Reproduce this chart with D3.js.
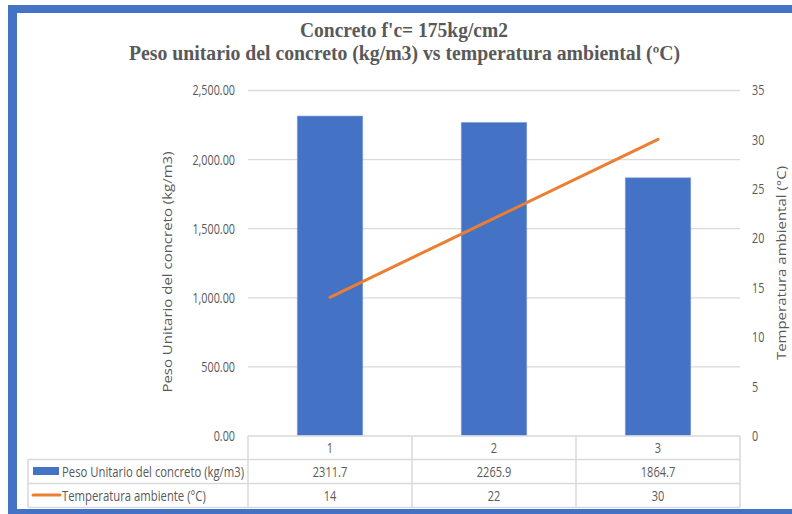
<!DOCTYPE html>
<html><head><meta charset="utf-8">
<script src="https://cdn.jsdelivr.net/npm/d3@7"></script>
<style>html,body{margin:0;padding:0;background:#fff;}svg{display:block;}</style>
</head><body>
<svg id="c" width="792" height="514"></svg>
<script>
const categories = ["1", "2", "3"];
const pesoUnitario = [2311.7, 2265.9, 1864.7];
const temperatura = [14, 22, 30];
const leftTicks = [0, 500, 1000, 1500, 2000, 2500];
const rightTicks = [0, 5, 10, 15, 20, 25, 30, 35];
const seriesNames = ["Peso Unitario del concreto (kg/m3)", "Temperatura ambiente (°C)"];
const titleLines = ["Concreto f'c= 175kg/cm2", "Peso unitario del concreto (kg/m3) vs temperatura ambiental (ºC)"];
const yLeftTitle = "Peso Unitario del concreto (kg/m3)";
const yRightTitle = "Temperatura ambiental (°C)";

const BLUE = "#4472C4", ORANGE = "#ED7D31", TXT = "#595959", GRID = "#D9D9D9";
const FONT = "'Open Sans', sans-serif";
const svg = d3.select("#c");

// frame
svg.append("rect").attr("x", 8).attr("y", 5).attr("width", 784).attr("height", 8).attr("fill", BLUE);
svg.append("rect").attr("x", 8).attr("y", 5).attr("width", 9).attr("height", 509).attr("fill", BLUE);
svg.append("rect").attr("x", 8).attr("y", 509).attr("width", 784).attr("height", 5).attr("fill", BLUE);

const plotL = 248, plotR = 740, plotT = 90, plotB = 435.5;
const x = d3.scaleBand().domain(categories).range([plotL, plotR]).paddingInner(0).paddingOuter(0);
const yL = d3.scaleLinear().domain([0, 2500]).range([plotB, plotT]);
const yR = d3.scaleLinear().domain([0, 35]).range([plotB, plotT]);

// gridlines
const grid = svg.append("g").attr("transform", `translate(${plotL},0)`)
  .call(d3.axisLeft(yL).tickValues(leftTicks.slice(1)).tickSize(-(plotR - plotL)).tickFormat(""));
grid.select(".domain").remove();
grid.selectAll("line").attr("stroke", GRID).attr("stroke-width", 1.3);

// left axis labels
const axL = svg.append("g").attr("transform", `translate(${plotL},0)`)
  .call(d3.axisLeft(yL).tickValues(leftTicks).tickSize(0).tickPadding(0).tickFormat(d3.format(",.2f")));
axL.select(".domain").remove();
axL.selectAll(".tick text").attr("font-family", FONT).attr("font-size", 14).attr("fill", TXT)
  .attr("x", 0).attr("dy", "0.35em").attr("text-anchor", "end")
  .attr("transform", "translate(-13,0) scale(0.77,1)");

// right axis labels
const axR = svg.append("g").attr("transform", `translate(${plotR},0)`)
  .call(d3.axisRight(yR).tickValues(rightTicks).tickSize(0).tickPadding(0));
axR.select(".domain").remove();
axR.selectAll(".tick text").attr("font-family", FONT).attr("font-size", 14).attr("fill", TXT)
  .attr("x", 0).attr("dy", "0.35em").attr("text-anchor", "start")
  .attr("transform", "translate(12,0) scale(0.77,1)");

// bars
const bw = x.bandwidth() / 2.5;
svg.append("g").selectAll("rect").data(categories).join("rect")
  .attr("x", (d) => x(d) + (x.bandwidth() - bw) / 2)
  .attr("y", (d, i) => yL(pesoUnitario[i]))
  .attr("width", bw)
  .attr("height", (d, i) => plotB - yL(pesoUnitario[i]))
  .attr("fill", BLUE).attr("stroke", "#8FAADC").attr("stroke-width", 0.6);

// line
const line = d3.line().x((d, i) => x(categories[i]) + x.bandwidth() / 2).y((d) => yR(d));
svg.append("path").datum(temperatura).attr("d", line).attr("fill", "none")
  .attr("stroke", ORANGE).attr("stroke-width", 3).attr("stroke-linecap", "round");

// titles
svg.append("text").attr("x", 404).attr("y", 37).attr("text-anchor", "middle")
  .attr("font-family", "'Liberation Serif', 'Times New Roman', serif").attr("font-weight", "bold")
  .attr("font-size", 20).attr("fill", TXT).attr("textLength", 208).attr("lengthAdjust", "spacingAndGlyphs")
  .text(titleLines[0]);
svg.append("text").attr("x", 404.5).attr("y", 60).attr("text-anchor", "middle")
  .attr("font-family", "'Liberation Serif', 'Times New Roman', serif").attr("font-weight", "bold")
  .attr("font-size", 20).attr("fill", TXT).attr("textLength", 551).attr("lengthAdjust", "spacingAndGlyphs")
  .text(titleLines[1]);

// axis titles
svg.append("text").attr("transform", "translate(172,272) scale(0.78,1) rotate(-90)")
  .attr("text-anchor", "middle").attr("font-family", FONT).attr("font-size", 15).attr("fill", TXT)
  .text(yLeftTitle);
svg.append("text").attr("transform", "translate(786,263) scale(0.78,1) rotate(-90)")
  .attr("text-anchor", "middle").attr("font-family", FONT).attr("font-size", 15).attr("fill", TXT)
  .text(yRightTitle);

// data table
const tT = 436, r1 = 459.5, r2 = 483.5, tB = 507.5, legL = 28;
const tg = svg.append("g").attr("stroke", GRID).attr("stroke-width", 1.5);
tg.append("line").attr("x1", plotL).attr("x2", plotR).attr("y1", tT).attr("y2", tT);
[r1, r2, tB].forEach(yy => tg.append("line").attr("x1", legL).attr("x2", plotR).attr("y1", yy).attr("y2", yy));
tg.append("line").attr("x1", legL).attr("x2", legL).attr("y1", r1).attr("y2", tB);
const colEdges = categories.map(c => x(c)).concat([plotR]);
colEdges.forEach(xx => tg.append("line").attr("x1", xx).attr("x2", xx).attr("y1", tT).attr("y2", tB));

function cellText(t, cx, cy, anchor, sc) {
  svg.append("text").attr("transform", `translate(${cx},${cy}) scale(${sc},1)`)
    .attr("text-anchor", anchor).attr("dy", "0.35em")
    .attr("font-family", FONT).attr("font-size", 14.5).attr("fill", TXT).text(t);
}
const fmtV = d3.format(".1f");
categories.forEach((c, i) => {
  const cx = x(c) + x.bandwidth() / 2;
  cellText(c, cx, (tT + r1) / 2, "middle", 0.76);
  cellText(fmtV(pesoUnitario[i]), cx, (r1 + r2) / 2, "middle", 0.76);
  cellText(String(temperatura[i]), cx, (r2 + tB) / 2, "middle", 0.76);
});
// legend keys
svg.append("rect").attr("x", 33).attr("y", 467).attr("width", 26).attr("height", 8).attr("fill", BLUE);
svg.append("line").attr("x1", 33).attr("x2", 60).attr("y1", 495).attr("y2", 495)
  .attr("stroke", ORANGE).attr("stroke-width", 3).attr("stroke-linecap", "round");
cellText(seriesNames[0], 62, (r1 + r2) / 2, "start", 0.78);
cellText(seriesNames[1], 62, (r2 + tB) / 2, "start", 0.78);
</script>
</body></html>
